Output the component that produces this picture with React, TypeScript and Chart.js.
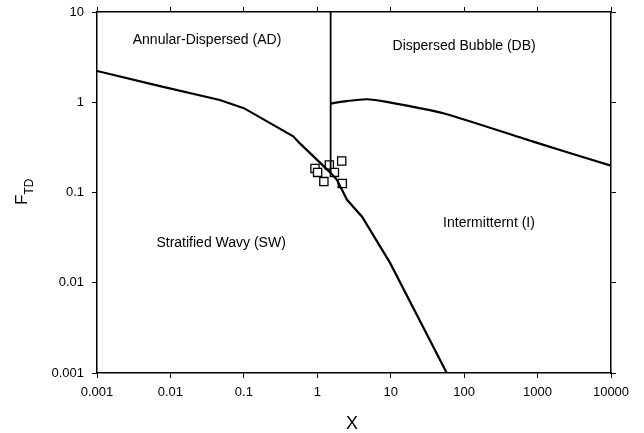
import { useEffect, useRef } from 'react';
import { Chart, registerables } from 'chart.js';

Chart.register(...registerables);

// Axis ticks (decades only)
const xTicks = [0.001, 0.01, 0.1, 1, 10, 100, 1000, 10000];
const xTickLabels = ['0.001', '0.01', '0.1', '1', '10', '100', '1000', '10000'];
const yTicks = [0.001, 0.01, 0.1, 1, 10];
const yTickLabels = ['0.001', '0.01', '0.1', '1', '10'];

// AD / SW and SW / I transition curve
const boundaryX = [0.001, 0.0072, 0.047, 0.1, 0.47, 0.58, 1.52, 1.85, 2.54, 4.07, 9.8, 58];
const boundaryY = [2.22, 1.51, 1.06, 0.86, 0.42, 0.35, 0.165, 0.138, 0.083, 0.054, 0.0166, 0.001];

// AD / DB vertical divider at X = 1.52
const dividerX = [1.52, 1.52];
const dividerY = [10, 0.165];

// DB / I transition curve
const dbX = [1.52, 2.5, 4.7, 8.8, 52, 871, 10000];
const dbY = [0.97, 1.03, 1.08, 1.01, 0.755, 0.366, 0.198];

// Experimental points
const expX = [0.93, 1.01, 1.23, 1.46, 1.71, 2.15, 2.19];
const expY = [0.185, 0.167, 0.132, 0.202, 0.167, 0.223, 0.126];

// Flow regime labels
const regionNames = ['Annular-Dispersed (AD)', 'Dispersed Bubble (DB)', 'Stratified Wavy (SW)', 'Intermitternt (I)'];
const regionX = [0.0315, 100, 0.049, 218];
const regionY = [4.9, 4.2, 0.0275, 0.046];

const FONT = '"Liberation Sans", Arial, sans-serif';

const pts = (xs: number[], ys: number[]) => xs.map((x, i) => ({ x, y: ys[i] }));

const textPlugin = {
  id: 'regimeText',
  afterDraw(chart: any) {
    const { ctx, scales } = chart;
    ctx.save();
    ctx.fillStyle = '#000';
    ctx.textAlign = 'center';
    ctx.textBaseline = 'middle';
    ctx.font = `14px ${FONT}`;
    regionNames.forEach((name, i) => {
      ctx.fillText(name, scales.x.getPixelForValue(regionX[i]), scales.y.getPixelForValue(regionY[i]));
    });

    // x-axis title
    ctx.font = `18px ${FONT}`;
    ctx.textBaseline = 'alphabetic';
    ctx.fillText('X', 352, 429);

    // y-axis title F_TD, rotated
    ctx.translate(27, 205);
    ctx.rotate(-Math.PI / 2);
    ctx.textAlign = 'left';
    ctx.font = `17px ${FONT}`;
    ctx.fillText('F', 0, 0);
    const fw = ctx.measureText('F').width;
    ctx.font = `12px ${FONT}`;
    ctx.fillText('TD', fw, 6);
    ctx.restore();
  },
};

const logScale = (position: string, min: number, max: number, ticks: number[], labels: string[], size: number, showLabels: boolean) => ({
  type: 'logarithmic',
  position,
  min,
  max,
  afterBuildTicks: (s: any) => {
    s.ticks = ticks.map((v) => ({ value: v }));
  },
  afterFit: (s: any) => {
    if (position === 'left' || position === 'right') s.width = size;
    else s.height = size;
    // keep the plot frame fixed; tick labels may overhang the axis ends
    s.paddingTop = 0;
    s.paddingBottom = 0;
    s.paddingLeft = 0;
    s.paddingRight = 0;
  },
  ticks: {
    display: showLabels,
    color: '#000',
    font: { family: FONT, size: 13 },
    padding: position === 'bottom' ? 7 : 8,
    autoSkip: false,
    maxRotation: 0,
    callback: (_v: any, i: number) => labels[i],
  },
  grid: { drawOnChartArea: false, drawTicks: true, tickLength: 5, color: '#000', lineWidth: 1 },
  border: { display: true, color: '#000', width: 1.5 },
});

export default function App() {
  const ref = useRef<HTMLCanvasElement>(null);

  useEffect(() => {
    if (!ref.current) return;
    const line = { borderColor: '#000', borderWidth: 2.2, pointRadius: 0, showLine: true, fill: false, tension: 0 };
    const chart = new Chart(ref.current, {
      type: 'scatter',
      data: {
        datasets: [
          { ...line, data: pts(boundaryX, boundaryY) },
          { ...line, borderWidth: 1.8, data: pts(dividerX, dividerY) },
          { ...line, data: pts(dbX, dbY), tension: 0.2 },
          {
            data: pts(expX, expY),
            pointStyle: 'rect',
            pointRadius: 5.8,
            borderColor: '#000',
            backgroundColor: '#fff',
            borderWidth: 1.3,
            showLine: false,
          },
        ],
      } as any,
      options: {
        animation: false,
        responsive: false,
        layout: { padding: 0 },
        plugins: { legend: { display: false }, tooltip: { enabled: false } },
        scales: {
          x: logScale('bottom', 0.001, 10000, xTicks, xTickLabels, 60, true),
          x2: logScale('top', 0.001, 10000, xTicks, xTickLabels, 12, false),
          y: logScale('left', 0.001, 10, yTicks, yTickLabels, 97, true),
          y2: logScale('right', 0.001, 10, yTicks, yTickLabels, 33, false),
        } as any,
      },
      plugins: [textPlugin],
    });
    return () => chart.destroy();
  }, []);

  return (
    <div style={{ position: 'absolute', left: 0, top: 0, width: 644, height: 433, background: '#fff' }}>
      <canvas ref={ref} width={644} height={433} style={{ display: 'block' }} />
    </div>
  );
}
